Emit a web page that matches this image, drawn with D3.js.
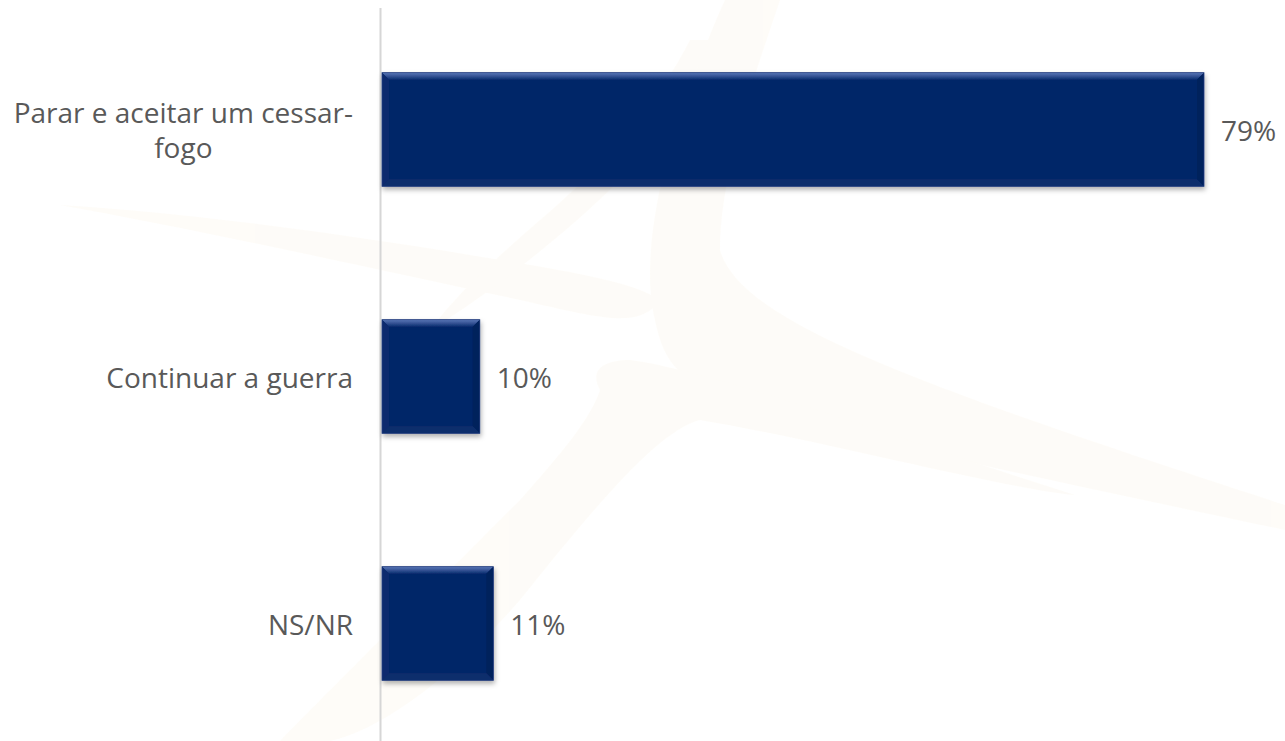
<!DOCTYPE html>
<html>
<head>
<meta charset="utf-8">
<script src="https://cdn.jsdelivr.net/npm/d3@7"></script>
<style>
  body { margin: 0; background: #fff; }
  svg { display: block; }
  text { font-family: "Open Sans", "Noto Sans", sans-serif; fill: #595959; }
</style>
</head>
<body>
<svg id="chart" width="1285" height="741"></svg>
<script>
// data
const categories = [["Parar e aceitar um cessar-", "fogo"], ["Continuar a guerra"], ["NS/NR"]];
const values = [79, 9.4, 10.7];
const valueLabels = ["79%", "10%", "11%"];

const width = 1285, height = 741;
const svg = d3.select('#chart');

// very faint watermark swooshes in the background
const mark = svg.append('g').attr('fill', '#f3e2c2').attr('opacity', 0.11);
const swooshes = [
  "M60,205 C200,230 380,270 520,300 C600,318 640,330 660,300 C630,280 560,270 470,255 C330,232 180,212 60,205 Z",
  "M655,320 C640,260 660,160 700,60 C712,30 720,10 725,0 L780,0 C760,60 720,170 720,250 C740,320 900,380 1285,505 L1285,530 C1000,470 760,420 690,380 C668,365 660,345 655,320 Z",
  "M600,390 C590,372 600,360 630,360 C720,372 900,440 1075,495 C1000,488 820,440 700,420 C660,430 600,500 520,600 C450,680 380,730 330,741 L280,741 C330,690 420,600 520,500 C560,455 590,420 600,390 Z",
  "M430,330 C480,300 560,240 620,180 C660,140 690,90 710,40 L690,40 C660,100 600,170 540,220 C500,255 460,290 430,330 Z"
];
mark.selectAll('path').data(swooshes).enter().append('path').attr('d', d => d);

const x = d3.scaleLinear().domain([0, 79]).range([382, 1204]);
const y = d3.scaleBand().domain(d3.range(categories.length))
    .range([6, 747]).paddingInner(0.54).paddingOuter(0.27);

// drop shadow + bevel gradient
const defs = svg.append('defs');
const f = defs.append('filter').attr('id', 'shadow').attr('x', '-5%').attr('y', '-10%').attr('width', '115%').attr('height', '130%');
f.append('feDropShadow').attr('dx', 1).attr('dy', 3).attr('stdDeviation', 2.5)
  .attr('flood-color', '#000').attr('flood-opacity', 0.3);
const g1 = defs.append('linearGradient').attr('id', 'topBevel').attr('x1', 0).attr('y1', 0).attr('x2', 0).attr('y2', 1);
g1.append('stop').attr('offset', '0%').attr('stop-color', '#5b78b8');
g1.append('stop').attr('offset', '100%').attr('stop-color', '#0c2d70');

// axis line
svg.append('line')
  .attr('x1', x(0) - 1.5).attr('x2', x(0) - 1.5)
  .attr('y1', 8).attr('y2', height)
  .attr('stroke', '#d6d6d6').attr('stroke-width', 2);

const bars = svg.selectAll('g.bar').data(values).enter().append('g')
  .attr('class', 'bar')
  .attr('transform', (d, i) => `translate(${x(0)},${y(i)})`)
  .attr('filter', 'url(#shadow)');

const b = 7;
bars.each(function (d) {
  const w = x(d) - x(0), h = y.bandwidth();
  const g = d3.select(this);
  g.append('rect').attr('width', w).attr('height', h).attr('fill', '#052567');
  g.append('polygon').attr('points', `0,0 ${w},0 ${w - b},${b} ${b},${b}`).attr('fill', 'url(#topBevel)');
  g.append('polygon').attr('points', `0,0 ${b},${b} ${b},${h - b} 0,${h}`).attr('fill', '#0b2c6e');
  g.append('polygon').attr('points', `${w},0 ${w - b},${b} ${w - b},${h - b} ${w},${h}`).attr('fill', '#03205c');
  g.append('polygon').attr('points', `0,${h} ${w},${h} ${w - b},${h - b} ${b},${h - b}`).attr('fill', '#0d2e6c');
  g.append('rect').attr('width', w).attr('height', h).attr('fill', 'none')
    .attr('stroke', '#23407f').attr('stroke-width', 0.8);
});

// value labels
svg.selectAll('text.val').data(values).enter().append('text')
  .attr('class', 'val')
  .attr('x', d => x(d) + 17)
  .attr('y', (d, i) => y(i) + y.bandwidth() / 2)
  .attr('dy', '0.4em')
  .attr('font-size', 28)
  .text((d, i) => valueLabels[i]);

// category labels: block right-aligned to axis, lines centred inside block
const lineH = 35.5;
const cats = svg.selectAll('g.cat').data(categories).enter().append('g').attr('class', 'cat');
cats.each(function (lines, i) {
  const g = d3.select(this);
  const cy = y(i) + y.bandwidth() / 2;
  const ts = lines.map((t, k) => g.append('text')
    .attr('font-size', 28)
    .attr('y', cy + (k - (lines.length - 1) / 2) * lineH)
    .attr('dy', '0.4em')
    .text(t));
  const widths = ts.map(t => t.node().getComputedTextLength());
  const maxW = d3.max(widths);
  const right = 353;
  ts.forEach((t, k) => t.attr('x', right - maxW / 2).attr('text-anchor', 'middle'));
});
</script>
</body>
</html>
